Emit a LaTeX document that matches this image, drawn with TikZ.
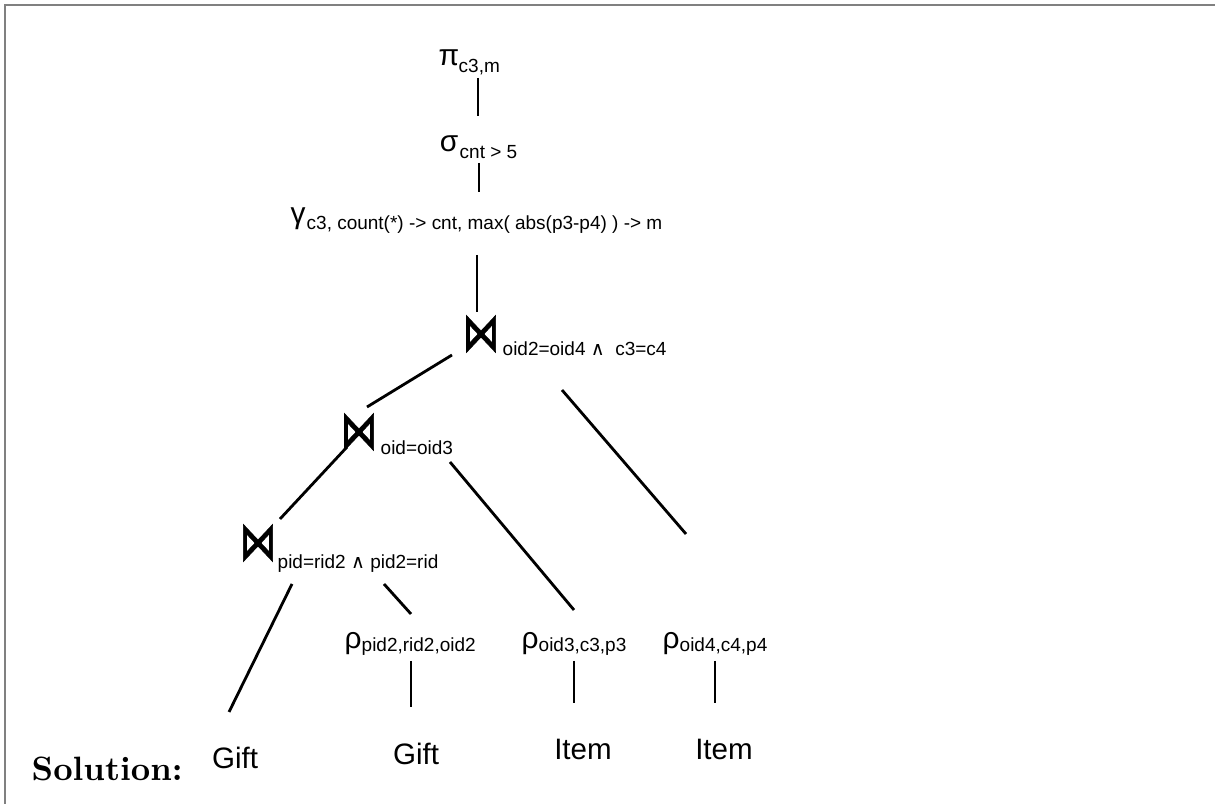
\documentclass[tikz,border=0pt]{standalone}
\usepackage{fontspec}
\setsansfont{Liberation Sans}
\newfontfamily\dejavu{DejaVu Sans}
\newfontfamily\dejavujoin{DejaVu Sans}[FakeBold=1.6]
\usetikzlibrary{positioning}

\begin{document}
\begin{tikzpicture}[x=0.01cm,y=-0.01cm]

% stile dei simboli greci
\tikzset{greco/.style={inner sep=0pt, font=\sffamily\fontsize{8.5}{9}\selectfont}}
% stile del simbolo di join
\tikzset{joinsym/.style={inner sep=0pt, font=\dejavujoin\fontsize{10.5}{11}\selectfont}}
% stile dei pedici
\tikzset{pedice/.style={inner sep=0pt, anchor=base west, font=\sffamily\fontsize{5.4}{6}\selectfont}}
% stile delle relazioni (foglie)
\tikzset{foglia/.style={inner sep=0pt, font=\sffamily\fontsize{8.4}{9}\selectfont}}
% stile dei rami
\tikzset{ramo/.style={line width=0.8pt}}

\useasboundingbox (0,0) rectangle (1215,804);

%Cornice
\draw[black!50, line width=0.6pt] (5,804) -- (5,5) -- (1215,5);

% Operatori
\node[greco] (proj) at (449,58) {π};
\node[pedice] (projsub) at (458,73) {c3,m};
\node[greco] (sel) at (449,144) {σ};
\node[pedice] (selsub) at (459,159) {cnt > 5};
\node[greco] (grp) at (298,219) {γ};
\node[pedice] (grpsub) at (306,230) {c3, count(*) -> cnt, max( abs(p3-p4) ) -> m};

% Join
\node[joinsym] (j1) at (481,334) {\scalebox{1}[1.45]{⋈}};
\node[pedice] (j1sub) at (502,356) {oid2=oid4 {\dejavu ∧}\ \ c3=c4};
\node[joinsym] (j2) at (359,432) {\scalebox{1}[1.45]{⋈}};
\node[pedice] (j2sub) at (380,455) {oid=oid3};
\node[joinsym] (j3) at (258,543) {\scalebox{1}[1.45]{⋈}};
\node[pedice] (j3sub) at (277,569) {pid=rid2 {\dejavu ∧} pid2=rid};

% Ridenominazioni
\foreach \n/\x/\t in {r1/353/{pid2,rid2,oid2}, r2/530/{oid3,c3,p3}, r3/671/{oid4,c4,p4}}
{
  \node[greco] (\n) at (\x,644) {ρ};
  \node[pedice] (\n sub) at (\x+8,652) {\t};
}

% Relazioni
\node[foglia] (gift1) at (235,758) {Gift};
\node[foglia] (gift2) at (416,754) {Gift};
\node[foglia] (item1) at (583,749) {Item};
\node[foglia] (item2) at (724,749) {Item};

%Etichetta
\node[inner sep=0pt, anchor=base west, font=\bfseries\fontsize{9.6}{11}\selectfont] (sol) at (31,781) {Solution:};

% Rami dell'albero
\draw[ramo] ([shift={(29,20)}]proj.center) -- ([shift={(29,-28)}]sel.center);
\draw[ramo] ([shift={(30,19)}]sel.center) -- ([shift={(181,-27)}]grp.center);
\draw[ramo] ([shift={(179,36)}]grp.center) -- ([shift={(-4,-22)}]j1.center);
\draw[ramo] ([shift={(-29,21)}]j1.center) -- ([shift={(8,-25)}]j2.center);
\draw[ramo] ([shift={(81,56)}]j1.center) -- ([shift={(15,-110)}]r3.center);
\draw[ramo] ([shift={(-12,15)}]j2.center) -- ([shift={(22,-24)}]j3.center);
\draw[ramo] ([shift={(91,30)}]j2.center) -- ([shift={(44,-34)}]r2.center);
\draw[ramo] ([shift={(34,41)}]j3.center) -- ([shift={(-6,-46)}]gift1.center);
\draw[ramo] ([shift={(126,41)}]j3.center) -- ([shift={(58,-30)}]r1.center);
\draw[ramo] ([shift={(58,17)}]r1.center) -- ([shift={(-5,-47)}]gift2.center);
\draw[ramo] ([shift={(44,17)}]r2.center) -- ([shift={(-9,-46)}]item1.center);
\draw[ramo] ([shift={(44,17)}]r3.center) -- ([shift={(-9,-46)}]item2.center);

\end{tikzpicture}
\end{document}
